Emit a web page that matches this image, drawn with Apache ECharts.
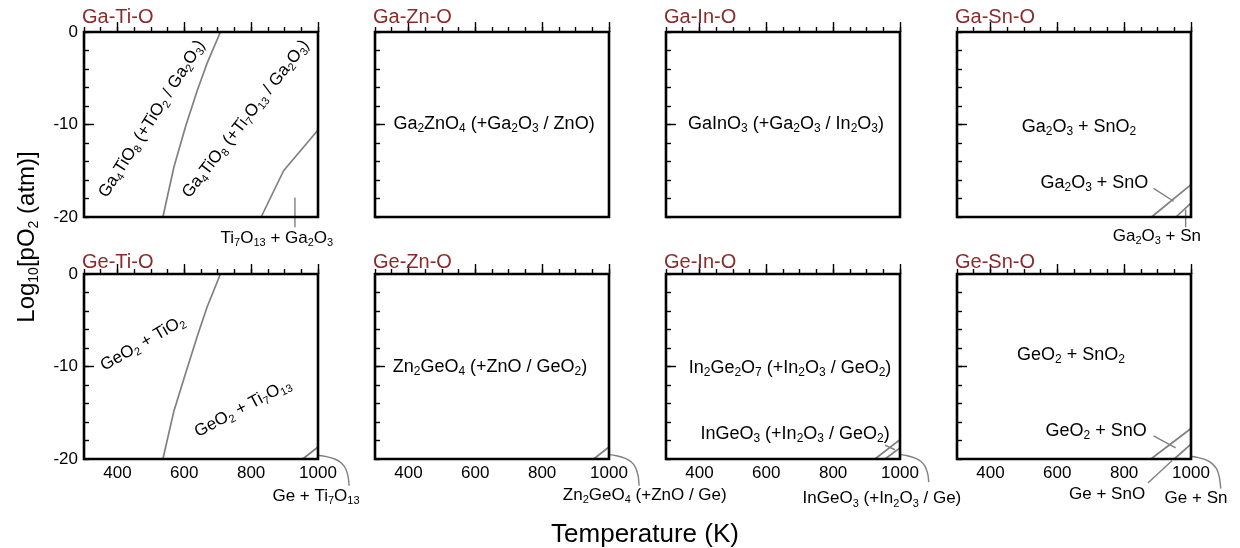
<!DOCTYPE html>
<html><head><meta charset="utf-8">
<script src="https://cdn.jsdelivr.net/npm/echarts@6/dist/echarts.min.js"></script>
<style>html,body{margin:0;padding:0;background:#fff}#c{width:1240px;height:548px}</style>
</head><body><div id="c"></div>
<script>
// ---------- data ----------
const panelTitles = ['Ga-Ti-O','Ga-Zn-O','Ga-In-O','Ga-Sn-O','Ge-Ti-O','Ge-Zn-O','Ge-In-O','Ge-Sn-O'];
const xMin = 300, xMax = 1000, yMin = -20, yMax = 0;
const xTickValues = [400, 600, 800, 1000];
const yTickValues = [0, -10, -20];

// phase boundaries [T (K), log10 pO2]
const gaTiBoundary1 = [[536,-20],[569,-14.6],[604,-10.2],[639,-6.3],[668,-3.4],[708,0]];
const gaTiBoundary2 = [[830,-20],[897,-15.0],[1000,-10.6]];
const gaSnBoundary1 = [[882,-20],[1000,-16.5]];
const gaSnBoundary2 = [[955,-20],[1000,-18.5]];
const geTiBoundary1 = [[536,-20],[569,-14.8],[600,-11.2],[640,-6.6],[668,-3.6],[708,0]];
const geTiBoundary2 = [[954,-20],[1000,-18.7]];
const geZnBoundary = [[954,-20],[1000,-18.7]];
const geInBoundary1 = [[925,-20],[1000,-17.9]];
const geInBoundary2 = [[955,-20],[1000,-18.8]];
const geSnBoundary1 = [[880,-20],[1000,-16.7]];
const geSnBoundary2 = [[950,-20],[1000,-18.4]];

// leader lines for labels
const gaTiLeader = [[931,-17.9],[931,-21.1]];
const gaSnLeader1 = [[888,-16.9],[948,-18.3]];
const gaSnLeader2 = [[984,-19.2],[984,-21.1]];
const geTiLeader = [[1000,-19.6],[1025,-19.75],[1050,-20.0],[1069,-20.4],[1082,-21.0],[1090,-21.9],[1093,-22.9]];
const geZnLeader = [[997,-19.5],[1022,-19.65],[1047,-19.9],[1066,-20.3],[1079,-20.9],[1087,-21.8],[1090,-22.9]];
const geInLeader1 = [[955,-18.5],[985,-19.0]];
const geInLeader2 = [[999,-19.5],[1022,-19.65],[1045,-19.9],[1062,-20.25],[1075,-20.8],[1083,-21.6],[1086,-22.5]];
const geSnLeader1 = [[888,-17.5],[954,-18.8]];
const geSnLeader2 = [[871,-22.6],[943,-20.2]];
const geSnLeader3 = [[999,-19.7],[1022,-19.85],[1045,-20.1],[1063,-20.5],[1077,-21.1],[1085,-22.0],[1089,-23.2]];

// label texts (_n = subscript)
const gaTiLabels = ['Ga_4TiO_8 (+TiO_2 / Ga_2O_3)','Ga_4TiO_8 (+Ti_7O_13 / Ga_2O_3)','Ti_7O_13 + Ga_2O_3'];
const gaTiLabelPos = [[503,-9.4],[784,-9.4],[877,-22.3]];
const gaTiLabelRot = [57.5, 52, 0];
const gaZnLabels = ['Ga_2ZnO_4 (+Ga_2O_3 / ZnO)'];
const gaZnLabelPos = [[656,-10.0]];
const gaInLabels = ['GaInO_3 (+Ga_2O_3 / In_2O_3)'];
const gaInLabelPos = [[659,-10.0]];
const gaSnLabels = ['Ga_2O_3 + SnO_2','Ga_2O_3 + SnO','Ga_2O_3 + Sn'];
const gaSnLabelPos = [[665,-10.3],[711,-16.3],[898,-22.1]];
const geTiLabels = ['GeO_2 + TiO_2','GeO_2 + Ti_7O_13','Ge + Ti_7O_13'];
const geTiLabelPos = [[476,-7.5],[775,-14.5],[994,-24.0]];
const geTiLabelRot = [30, 28, 0];
const geZnLabels = ['Zn_2GeO_4 (+ZnO / GeO_2)','Zn_2GeO_4 (+ZnO / Ge)'];
const geZnLabelPos = [[644,-10.1],[1107,-23.9]];
const geInLabels = ['In_2Ge_2O_7 (+In_2O_3 / GeO_2)','InGeO_3 (+In_2O_3 / GeO_2)','InGeO_3 (+In_2O_3 / Ge)'];
const geInLabelPos = [[671,-10.2],[686,-17.3],[946,-24.3]];
const geSnLabels = ['GeO_2 + SnO_2','GeO_2 + SnO','Ge + SnO','Ge + Sn'];
const geSnLabelPos = [[641,-8.8],[716,-17.0],[749,-23.8],[1015,-24.3]];

// ---------- assembly ----------
const panelBoundaries = [[gaTiBoundary1,gaTiBoundary2],[],[],[gaSnBoundary1,gaSnBoundary2],
  [geTiBoundary1,geTiBoundary2],[geZnBoundary],[geInBoundary1,geInBoundary2],[geSnBoundary1,geSnBoundary2]];
const panelLeaders = [[gaTiLeader],[],[],[gaSnLeader1,gaSnLeader2],[geTiLeader],[geZnLeader],[geInLeader1,geInLeader2],[geSnLeader1,geSnLeader2,geSnLeader3]];
const panelLabels = [
  [gaTiLabels,gaTiLabelPos,gaTiLabelRot],[gaZnLabels,gaZnLabelPos],[gaInLabels,gaInLabelPos],[gaSnLabels,gaSnLabelPos],
  [geTiLabels,geTiLabelPos,geTiLabelRot],[geZnLabels,geZnLabelPos],[geInLabels,geInLabelPos],[geSnLabels,geSnLabelPos]];

const FONT = '"Liberation Sans", Arial, Helvetica, sans-serif';
const gridLefts = [84, 375, 666, 957];
const gridTops = [32, 274];
const gridW = 234, gridH = 185;
const lineGray = '#808080';

function sub(s){ return s.replace(/_(\d+)/g, '{s|$1}'); }

const grid = [], xAxis = [], yAxis = [], series = [], title = [];
for (let i = 0; i < 8; i++) {
  const col = i % 4, row = Math.floor(i / 4);
  grid.push({left: gridLefts[col], top: gridTops[row], width: gridW, height: gridH,
    show: true, borderColor: '#000', borderWidth: 2.6, backgroundColor: 'transparent', z: 10});
  title.push({text: panelTitles[i], left: gridLefts[col] - 2, top: row ? 252 : 7, padding: 0,
    textStyle: {fontSize: 20, fontWeight: 'normal', color: '#8c2b2b', fontFamily: FONT}});
  const tickStyle = {color: '#000', width: 1.4};
  xAxis.push({gridIndex: i, type: 'value', min: xMin, max: xMax, interval: 50, position: 'bottom',
    axisLine: {show: false}, splitLine: {show: false}, axisLabel: {show: false},
    axisTick: {show: true, inside: true, length: 5, lineStyle: tickStyle}});
  yAxis.push({gridIndex: i, type: 'value', min: yMin, max: yMax, interval: 2, position: 'left',
    axisLine: {show: false}, splitLine: {show: false}, axisLabel: {show: false},
    axisTick: {show: true, inside: true, length: 5, lineStyle: tickStyle}});
  xAxis.push({gridIndex: i, type: 'value', min: xMin, max: xMax, interval: 50, position: 'bottom',
    axisLine: {show: false}, splitLine: {show: false},
    axisTick: {show: true, inside: true, length: 10, lineStyle: tickStyle, customValues: xTickValues},
    axisLabel: {show: row === 1, customValues: xTickValues, formatter: v => String(v),
      fontSize: 17, color: '#000', margin: 6, fontFamily: FONT}});
  yAxis.push({gridIndex: i, type: 'value', min: yMin, max: yMax, interval: 2, position: 'left',
    axisLine: {show: false}, splitLine: {show: false},
    axisTick: {show: true, inside: true, length: 10, lineStyle: tickStyle, customValues: [-10]},
    axisLabel: {show: col === 0, customValues: yTickValues, formatter: v => String(v),
      fontSize: 17, color: '#000', margin: 6, fontFamily: FONT}});
  const ax = 2 * i + 1;
  panelBoundaries[i].forEach(d => series.push({type: 'line', xAxisIndex: ax, yAxisIndex: ax, data: d,
    symbol: 'none', clip: false, silent: true, lineStyle: {color: lineGray, width: 1.7}, z: 3}));
  const leaders = panelLeaders[i];
  if (leaders.length) {
    series.push({type: 'custom', xAxisIndex: ax, yAxisIndex: ax, clip: false, silent: true, z: 3,
      data: leaders.map((d, k) => [d[0][0], d[0][1], k]),
      encode: {x: 0, y: 1},
      renderItem: (params, api) => {
        const d = leaders[api.value(2)];
        return {type: 'polyline',
          shape: {points: d.map(p => api.coord(p)), smooth: d.length > 2 ? 0.3 : 0},
          style: {stroke: lineGray, lineWidth: 1.4, fill: null}};
      }});
  }
  const [txts, pos, rot] = panelLabels[i];
  series.push({type: 'scatter', xAxisIndex: ax, yAxisIndex: ax, symbolSize: 0, clip: false, silent: true, z: 5,
    itemStyle: {opacity: 1},
    data: txts.map((t, k) => {
      const r = rot ? rot[k] : 0;
      const small = pos[k][1] < yMin || r !== 0;
      return {name: t, value: pos[k], label: {rotate: r, fontSize: small ? 17 : 18,
        rich: {s: {fontSize: small ? 11 : 12, lineHeight: 11, verticalAlign: 'bottom', color: '#000', fontFamily: FONT}}}};
    }),
    label: {show: true, position: 'inside', align: 'center', verticalAlign: 'middle', opacity: 1,
      formatter: p => sub(p.name), fontSize: 18, lineHeight: 21, color: '#000', fontFamily: FONT,
      rich: {s: {fontSize: 12, lineHeight: 11, verticalAlign: 'bottom', color: '#000', fontFamily: FONT}}}});
}

const option = {
  animation: false,
  backgroundColor: '#fff',
  title, grid, xAxis, yAxis, series,
  graphic: [
    {type: 'text', x: 27, y: 237, rotation: Math.PI / 2,
      style: {text: 'Log{s|10}[pO{s|2} (atm)]', fontSize: 24, lineHeight: 28, fontFamily: FONT, fill: '#000',
        align: 'center', verticalAlign: 'middle',
        rich: {s: {fontSize: 14, lineHeight: 14, verticalAlign: 'bottom', fontFamily: FONT, fill: '#000'}}}},
    {type: 'text', x: 645, y: 535,
      style: {text: 'Temperature (K)', fontSize: 26, fontFamily: FONT, fill: '#000', align: 'center', verticalAlign: 'middle'}}
  ]
};
const chart = echarts.init(document.getElementById('c'), null, {renderer: 'canvas'});
chart.setOption(option);
</script></body></html>
